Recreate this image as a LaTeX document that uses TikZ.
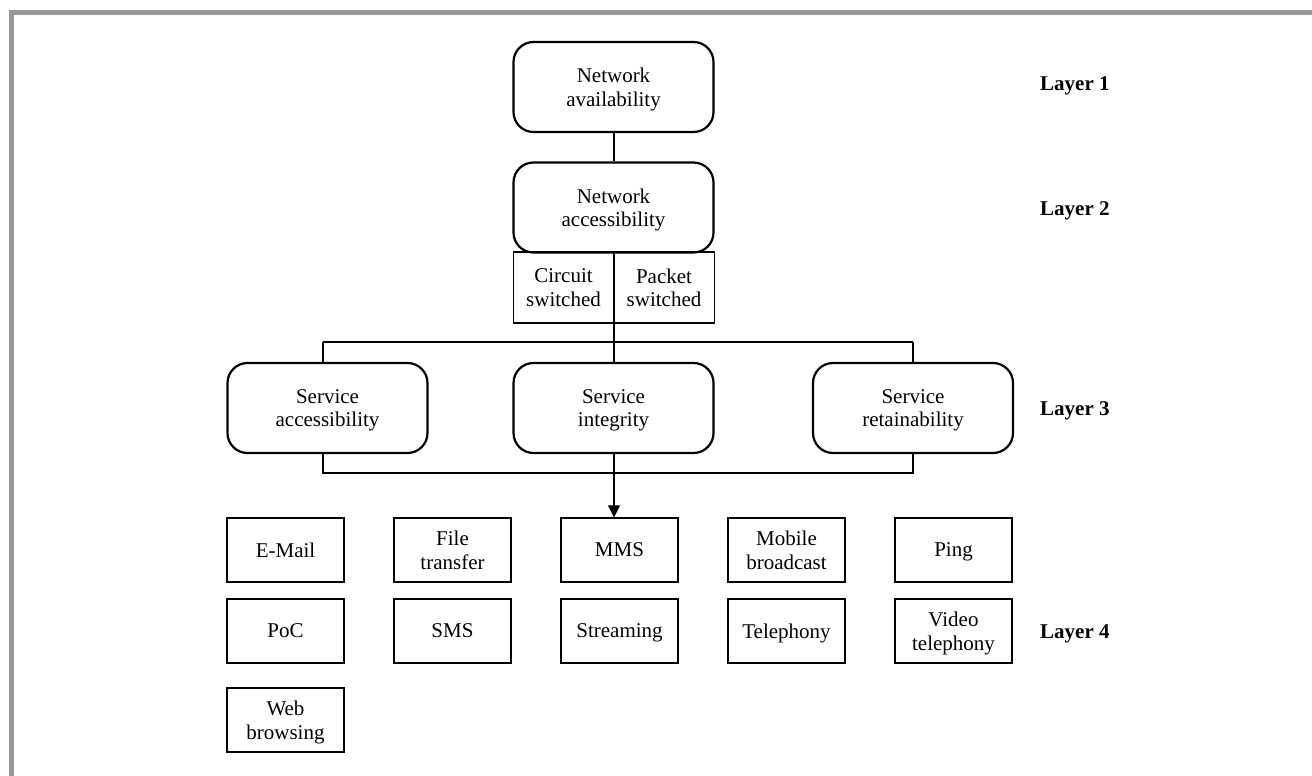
\documentclass[tikz,border=0pt]{standalone}
\usepackage{fontspec}
\setmainfont{Liberation Serif}
\usetikzlibrary{arrows.meta}
\begin{document}
\begin{tikzpicture}[x=1pt,y=-1pt,
  txt/.style={font=\fontsize{21}{23.5}\selectfont, text depth=0pt},
  rbox/.style={txt, draw, line width=2.2pt, rounded corners=20pt, minimum width=200pt, minimum height=90pt, align=center, inner sep=0pt},
  sbox/.style={txt, draw, line width=1.3pt, minimum width=117pt, minimum height=64pt, align=center, inner sep=0pt},
  hbox/.style={txt, draw, line width=1.3pt, minimum width=100.5pt, minimum height=71pt, align=center, inner sep=0pt},
  conn/.style={line width=1.3pt},
  layer/.style={anchor=west, inner sep=0pt, font=\fontsize{21}{23.5}\selectfont\bfseries},
  frame/.style={draw=black!40, line width=5pt}
]
\useasboundingbox (0,0) rectangle (1312,776);
\draw[frame] (11.5,776) -- (11.5,12.5) -- (1312,12.5);

% layer 1-2
\node[rbox] (avail) at (613.5,87) {Network\\availability};
\node[rbox] (access) at (613.5,207.5) {Network\\accessibility};
\node[hbox] (cs) at (563.5,287.5) {Circuit\\switched};
\node[hbox] (ps) at (664,287.5) {Packet\\switched};

% layer 3
\node[rbox] (sacc) at (327.5,408) {Service\\accessibility};
\node[rbox] (sint) at (613.5,408) {Service\\integrity};
\node[rbox] (sret) at (913,408) {Service\\retainability};

% layer 4
\node[sbox] (email) at (285.5,550) {E-Mail};
\node[sbox] (ftp) at (452.5,550) {File\\transfer};
\node[sbox] (mms) at (619.5,550) {MMS};
\node[sbox] (mbc) at (786.5,550) {Mobile\\broadcast};
\node[sbox] (ping) at (953.5,550) {Ping};
\node[sbox] (poc) at (285.5,631) {PoC};
\node[sbox] (sms) at (452.5,631) {SMS};
\node[sbox] (strm) at (619.5,631) {Streaming};
\node[sbox] (tel) at (786.5,631) {Telephony};
\node[sbox] (vtel) at (953.5,631) {Video\\telephony};
\node[sbox] (web) at (285.5,720) {Web\\browsing};

% layer labels
\node[layer] (l1) at (1040,86) {Layer 1};
\node[layer] (l2) at (1040,211) {Layer 2};
\node[layer] (l3) at (1040,411) {Layer 3};
\node[layer] (l4) at (1040,634) {Layer 4};

% bus coordinates
\coordinate (tbl) at (323,342);
\coordinate (tbm) at (614,342);
\coordinate (tbr) at (913,342);
\coordinate (bbl) at (323,473);
\coordinate (bbr) at (913,473);

% connectors
\draw[conn] (avail.south -| tbm) -- (access.north -| tbm);
\draw[conn] (access.south -| tbm) -- (sint.north -| tbm);
\draw[conn] (tbl) -- (tbr);
\draw[conn] (sacc.north -| tbl) -- (tbl);
\draw[conn] (sret.north -| tbr) -- (tbr);
\draw[conn] (sacc.south -| bbl) -- (bbl) -- (bbr) -- (sret.south -| bbr);
\draw[conn, -{Triangle[width=12pt,length=12pt]}] (sint.south -| tbm) -- (mms.north -| tbm);
\end{tikzpicture}
\end{document}
